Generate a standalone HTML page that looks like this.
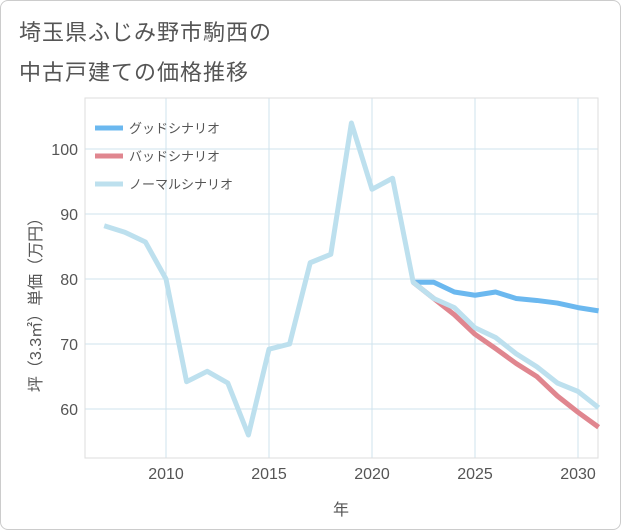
<!DOCTYPE html>
<html><head><meta charset="utf-8"><style>
body{margin:0;background:#fff;font-family:"Liberation Sans","Noto Sans CJK JP",sans-serif}
#wrap{position:relative;width:619px;height:528px;border:1px solid #ccc;border-radius:8px;background:#fff;overflow:hidden}
.t{position:absolute;left:18px;color:#555;font-size:22px;letter-spacing:1px}
</style></head><body>
<div id="wrap">
<div class="t" style="top:14px">埼玉県ふじみ野市駒西の</div>
<div class="t" style="top:54px">中古戸建ての価格推移</div>
<svg id="c" width="621" height="530" style="position:absolute;left:0;top:0"></svg>
</div>
<script>
const years=[2007,2008,2009,2010,2011,2012,2013,2014,2015,2016,2017,2018,2019,2020,2021,2022,2023,2024,2025,2026,2027,2028,2029,2030,2031];
const normal=[88.2,87.2,85.7,80,64.2,65.8,64,56,69.2,70,82.5,83.8,104,93.8,95.5,79.5,77,75.6,72.5,71,68.5,66.5,64,62.7,60.2];
const futureYears=[2022,2023,2024,2025,2026,2027,2028,2029,2030,2031];
const good=[79.5,79.5,78,77.5,78,77,76.7,76.3,75.6,75.1];
const bad=[79.5,77,74.5,71.5,69.3,67,65,62,59.5,57.2];
const xTicks=[2010,2015,2020,2025,2030];
const yTicks=[60,70,80,90,100];
const NS="http://www.w3.org/2000/svg",svg=document.getElementById('c');
const L=84,R=597,T=97,B=457;
const x=v=>165+(v-2010)*20.6, y=v=>148+(100-v)*6.5;
function mk(t,a){const e=document.createElementNS(NS,t);for(const k in a)e.setAttribute(k,a[k]);svg.appendChild(e);return e;}
xTicks.forEach(v=>{const l=mk('line',{x1:x(v),x2:x(v),y1:T,y2:B,stroke:'#cfe3ee'});


const t=mk('text',{x:x(v),y:478,'text-anchor':'middle','font-size':16,fill:'#555'});t.textContent=v;

});
yTicks.forEach(v=>{const l=mk('line',{x1:L,x2:R,y1:y(v),y2:y(v),stroke:'#cfe3ee'});


const t=mk('text',{x:77,y:y(v)+6,'text-anchor':'end','font-size':16,fill:'#555'});t.textContent=v;

});
const ax=mk('path',{d:`M${L} ${T}V${B}H${R}`,fill:'none',stroke:'#999'});


const ff=mk('rect',{x:L,y:T,width:R-L,height:B-T,fill:'none',stroke:'#ddd'});


function line(xs,vs,c,n){const p=mk('polyline',{points:xs.map((v,i)=>x(v)+','+y(vs[i])).join(' '),fill:'none',stroke:c,'stroke-width':5,'stroke-linejoin':'round'});

}
line(futureYears,good,'#6bb8ef','good-scenario-line');
line(futureYears,bad,'#e0868f','bad-scenario-line');
line(years,normal,'#bde0ee','normal-scenario-line');
[['グッドシナリオ','#6bb8ef'],['バッドシナリオ','#e0868f'],['ノーマルシナリオ','#bde0ee']].forEach((d,i)=>{const yy=127+i*28;
const l=mk('line',{x1:94,x2:122,y1:yy,y2:yy,stroke:d[1],'stroke-width':5});


const t=mk('text',{x:128,y:yy+5,'font-size':13,fill:'#555'});t.textContent=d[0];

});
const xt=mk('text',{x:340,y:514,'text-anchor':'middle','font-size':16,fill:'#555'});xt.textContent='年';


const yt=mk('text',{x:0,y:0,'text-anchor':'middle','font-size':16,fill:'#555',transform:'translate(40,300) rotate(-90)'});yt.textContent='坪（3.3㎡）単価（万円）';


</script></body></html>
